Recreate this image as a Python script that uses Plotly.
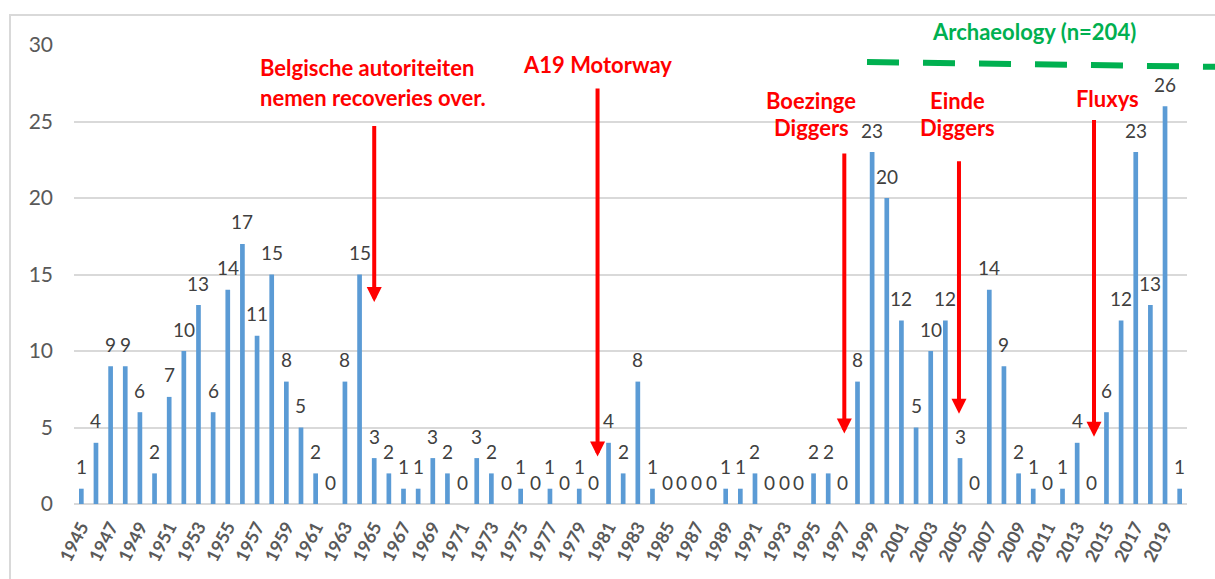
import plotly.graph_objects as go

# Recoveries per year
years = list(range(1945, 2021))
counts = [1, 4, 9, 9, 6, 2, 7, 10, 13, 6, 14, 17, 11, 15, 8, 5, 2, 0, 8, 15,
          3, 2, 1, 1, 3, 2, 0, 3, 2, 0, 1, 0, 1, 0, 1, 0, 4, 2, 8, 1,
          0, 0, 0, 0, 1, 1, 2, 0, 0, 0, 2, 2, 0, 8, 23, 20, 12, 5, 10, 12,
          3, 0, 14, 9, 2, 1, 0, 1, 4, 0, 6, 12, 23, 13, 26, 1]
tick_years = list(range(1945, 2021, 2))

# Event call-outs: (year, arrow tip value, arrow tail value)
events = [
    (1965.0, 13.2, 24.8),
    (1980.25, 3.1, 27.25),
    (1997.1, 4.6, 23.0),
    (2004.93, 5.9, 22.5),
    (2014.15, 4.4, 25.2),
]

FONT = "Lato"
RED = "#FF0000"
GREEN = "#00B050"
GRID = "#D9D9D9"

fig = go.Figure()
fig.add_trace(go.Bar(
    x=years, y=counts, width=0.32,
    marker=dict(color="#5B9BD5", line=dict(width=0)),
    hoverinfo="x+y", showlegend=False,
))

annotations = []
# value labels above each bar
for yr, c in zip(years, counts):
    annotations.append(dict(
        x=yr, y=c, xref="x", yref="y", text=str(c), showarrow=False,
        yanchor="middle", yshift=22,
        font=dict(family=FONT, size=19, color="#404040"),
    ))

# red arrows
for x, tip, tail in events:
    annotations.append(dict(
        x=x, y=tip, ax=x, ay=tail, xref="x", yref="y", axref="x", ayref="y",
        text="", showarrow=True, arrowhead=2, arrowsize=0.75, arrowwidth=4,
        arrowcolor=RED, standoff=0, startstandoff=0,
    ))

red_font = dict(family=FONT, size=22, color=RED, weight="bold")
labels = [
    ("Belgische autoriteiten", 1957.07, 28.5, "left"),
    ("nemen recoveries over.", 1957.07, 26.6, "left"),
    ("A19 Motorway", 1980.22, 28.7, "center"),
    ("Boezinge", 1994.84, 26.4, "center"),
    ("Diggers", 1994.84, 24.6, "center"),
    ("Einde", 2004.85, 26.4, "center"),
    ("Diggers", 2004.85, 24.6, "center"),
    ("Fluxys", 2015.06, 26.5, "center"),
]
for txt, x, y, anchor in labels:
    annotations.append(dict(
        x=x, y=y, xref="x", yref="y", text=txt, showarrow=False,
        xanchor=anchor, yanchor="middle", font=red_font,
    ))

# group label sits above the plot area, so place it in paper units
annotations.append(dict(
    x=(1034 - 74) / 1113, y=(504 - 32) / 459, xref="paper", yref="paper",
    text="Archaeology (n=204)",
    showarrow=False, xanchor="center", yanchor="middle",
    font=dict(family=FONT, size=22, color=GREEN, weight="bold"),
))

shapes = [
    # chart frame
    dict(type="rect", xref="paper", yref="paper",
         x0=-0.0575, x1=1.05, y0=-0.2, y1=1.0654,
         line=dict(color=GRID, width=2), fillcolor="rgba(0,0,0,0)", layer="below"),
    # archaeology dashed line
    dict(type="line", xref="paper", yref="paper",
         x0=0.7125, x1=1.0386, y0=0.963, y1=0.952,
         line=dict(color=GREEN, width=6, dash="32px,24px")),
]

fig.update_layout(
    width=1215, height=579,
    margin=dict(l=74, r=28, t=45, b=75, autoexpand=False),
    paper_bgcolor="white", plot_bgcolor="white",
    font=dict(family=FONT),
    bargap=0.68,
    annotations=annotations,
    shapes=shapes,
    xaxis=dict(
        range=[1944.5, 2020.5], tickmode="array", tickvals=tick_years,
        ticktext=[str(t) for t in tick_years], tickangle=-63,
        tickfont=dict(family=FONT, size=18, color="#595959", weight="bold"),
        showgrid=False, zeroline=False, showline=False, ticks="",
        ticklabelstandoff=8, automargin=False,
    ),
    yaxis=dict(
        range=[0, 30], tickvals=[0, 5, 10, 15, 20, 25, 30],
        tickfont=dict(family=FONT, size=21, color="#595959"),
        showgrid=True, gridcolor=GRID, gridwidth=1.5,
        zeroline=True, zerolinecolor=GRID, zerolinewidth=2,
        showline=False, ticks="", ticklabelstandoff=20, automargin=False,
    ),
)

fig.write_html("out.html")
